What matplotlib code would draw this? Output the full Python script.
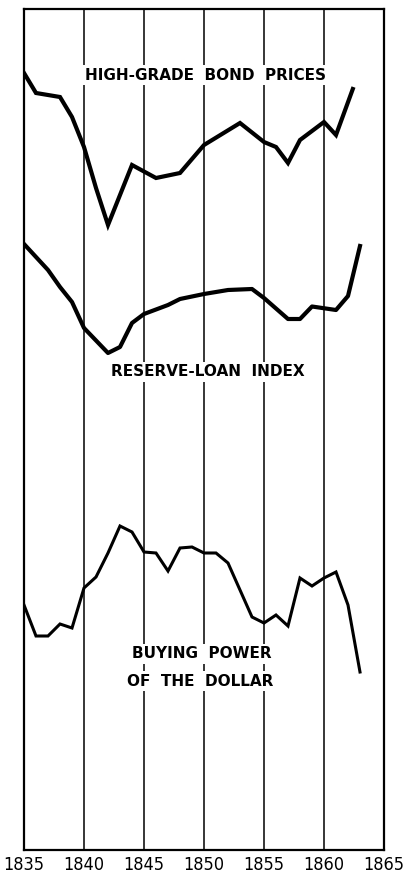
import matplotlib
matplotlib.use("Agg")
import matplotlib.pyplot as plt

# values, arbitrary vertical units (no y scale on the original)
bond_years = [1835, 1836, 1838, 1839, 1840, 1841, 1842, 1844, 1846, 1848, 1850,
              1853, 1855, 1856, 1857, 1858, 1860, 1861, 1862.4]
bond_vals = [77.7, 75.7, 75.3, 73.3, 70.3, 66.2, 62.5, 68.5, 67.2, 67.7, 70.5,
             72.7, 70.8, 70.3, 68.7, 71.0, 72.8, 71.5, 76.1]

loan_years = [1835, 1836, 1837, 1838, 1839, 1840, 1842, 1843, 1844, 1845, 1847,
              1848, 1850, 1852, 1854, 1855, 1857, 1858, 1859, 1861, 1862, 1863]
loan_vals = [60.6, 59.3, 58.0, 56.3, 54.8, 52.2, 49.7, 50.3, 52.7, 53.6, 54.5,
             55.1, 55.6, 56.0, 56.1, 55.2, 53.1, 53.1, 54.35, 54.0, 55.4, 60.4]

dollar_years = [1835, 1836, 1837, 1838, 1839, 1840, 1841, 1842, 1843, 1844, 1845,
                1846, 1847, 1848, 1849, 1850, 1851, 1852, 1854, 1855, 1856, 1857,
                1858, 1859, 1860, 1861, 1862, 1863]
dollar_vals = [24.5, 21.4, 21.4, 22.6, 22.2, 26.2, 27.3, 29.7, 32.4, 31.8, 29.8,
               29.7, 27.9, 30.2, 30.3, 29.7, 29.7, 28.7, 23.3, 22.7, 23.5, 22.4,
               27.2, 26.4, 27.2, 27.8, 24.5, 17.8]

tick_years = [1835, 1840, 1845, 1850, 1855, 1860, 1865]

fig = plt.figure(figsize=(4.05, 8.76), dpi=100)
ax = fig.add_axes([24 / 405, 26 / 876, 360 / 405, 841 / 876])

for yr in tick_years[1:-1]:
    ax.axvline(yr, color="black", lw=1.1, zorder=1)

ax.plot(bond_years, bond_vals, color="black", lw=3.0, solid_joinstyle="miter", zorder=3)
ax.plot(loan_years, loan_vals, color="black", lw=3.0, solid_joinstyle="round", zorder=3)
ax.plot(dollar_years, dollar_vals, color="black", lw=2.2, solid_joinstyle="miter", zorder=3)

box = dict(facecolor="white", edgecolor="none", pad=1.5)
lab = dict(ha="center", va="center", fontsize=11, fontweight="bold", color="black",
           bbox=box, zorder=2, family="DejaVu Sans")
ax.text(1850.1, (850 - 75) / 10, "HIGH-GRADE  BOND  PRICES", **lab)
ax.text(1850.3, (850 - 372) / 10, "RESERVE-LOAN  INDEX", **lab)
ax.text(1849.8, (850 - 654) / 10, "BUYING  POWER", **lab)
ax.text(1849.7, (850 - 681) / 10, "OF  THE  DOLLAR", **lab)

ax.set_xlim(1835, 1865)
ax.set_ylim(0, 84.1)
ax.set_xticks(tick_years)
ax.set_xticklabels([str(t) for t in tick_years], fontsize=13, fontstretch="condensed")
ax.tick_params(axis="x", length=0, pad=4)
ax.set_yticks([])
for s in ax.spines.values():
    s.set_linewidth(1.6)

fig.savefig("out.png", dpi=100)
